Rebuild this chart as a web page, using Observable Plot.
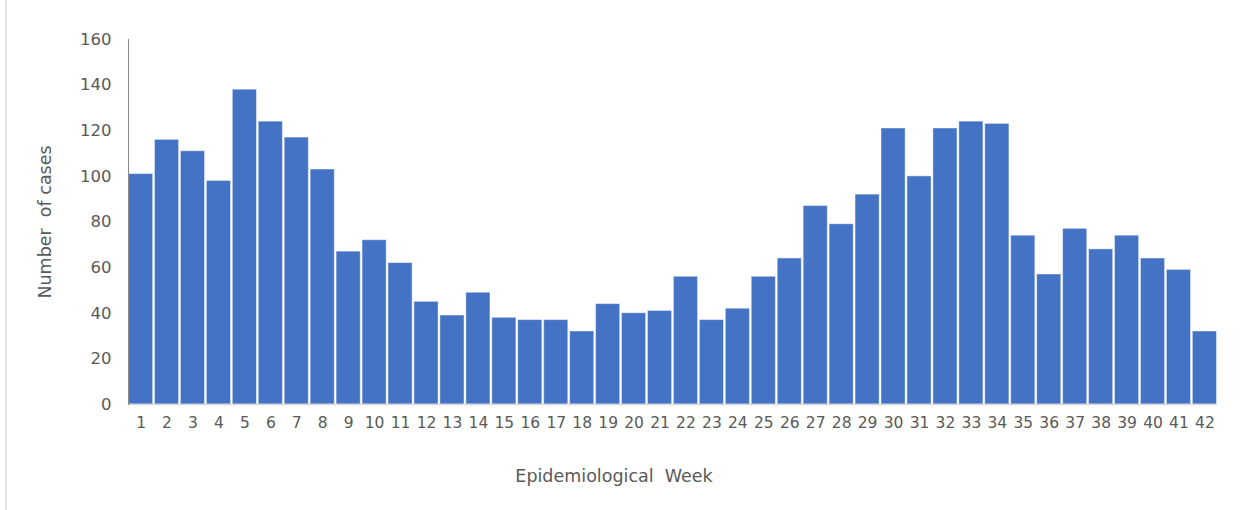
<!DOCTYPE html>
<html><head><meta charset="utf-8">
<script src="https://cdn.jsdelivr.net/npm/d3@7"></script>
<script src="https://cdn.jsdelivr.net/npm/@observablehq/plot@0.6"></script>
<style>
body{margin:0;background:#fff;}
#wrap{position:relative;width:1248px;height:510px;overflow:hidden;}
#edge{position:absolute;left:5px;top:0;width:2px;height:510px;background:#e2e2e2;}
#wrap svg{position:absolute;left:0;top:0;}
</style></head><body><div id="wrap"><div id="edge"></div></div>
<script>
const weeks = ["1","2","3","4","5","6","7","8","9","10","11","12","13","14","15","16","17","18","19","20","21","22","23","24","25","26","27","28","29","30","31","32","33","34","35","36","37","38","39","40","41","42"];
const cases = [101,116,111,98,138,124,117,103,67,72,62,45,39,49,38,37,37,32,44,40,41,56,37,42,56,64,87,79,92,121,100,121,124,123,74,57,77,68,74,64,59,32];
const yTicks = [0,20,40,60,80,100,120,140,160];
const xTitle = "Epidemiological  Week";
const yTitle = "Number  of cases";

const data = weeks.map((w,i)=>({week:w, cases:cases[i]}));
const chart = Plot.plot({
  width:1248, height:510,
  marginLeft:128, marginRight:31, marginTop:39, marginBottom:106,
  style:{fontFamily:"'DejaVu Sans', Verdana, sans-serif", background:"transparent", color:"#595959"},
  x:{domain:weeks, paddingInner:0.07, paddingOuter:0.02},
  y:{domain:[0,160]},
  marks:[
    Plot.barY(data,{x:"week", y:"cases", fill:"#4472C4", stroke:"#ffffff", strokeOpacity:0.45, strokeWidth:1}),
    Plot.ruleY([0],{stroke:"#d9d9d9", strokeWidth:1.5}),
    Plot.frame({anchor:"left", stroke:"#8a8a8a"}),
    Plot.axisY({ticks:yTicks, tickSize:0, tickPadding:17, fontSize:16.5, label:null, color:"#595959"}),
    Plot.axisX({tickSize:0, tickPadding:12, fontSize:15.5, label:null, color:"#595959"}),
    Plot.text([xTitle],{text:d=>d, frameAnchor:"bottom", textAnchor:"middle", lineAnchor:"middle", dx:-59, dy:72, fontSize:17.5, fill:"#595959"}),
    Plot.text([yTitle],{text:d=>d, frameAnchor:"left", textAnchor:"middle", lineAnchor:"middle", dx:-83, rotate:-90, fontSize:17.5, fill:"#595959"})
  ]
});
document.getElementById("wrap").appendChild(chart);
</script></body></html>
